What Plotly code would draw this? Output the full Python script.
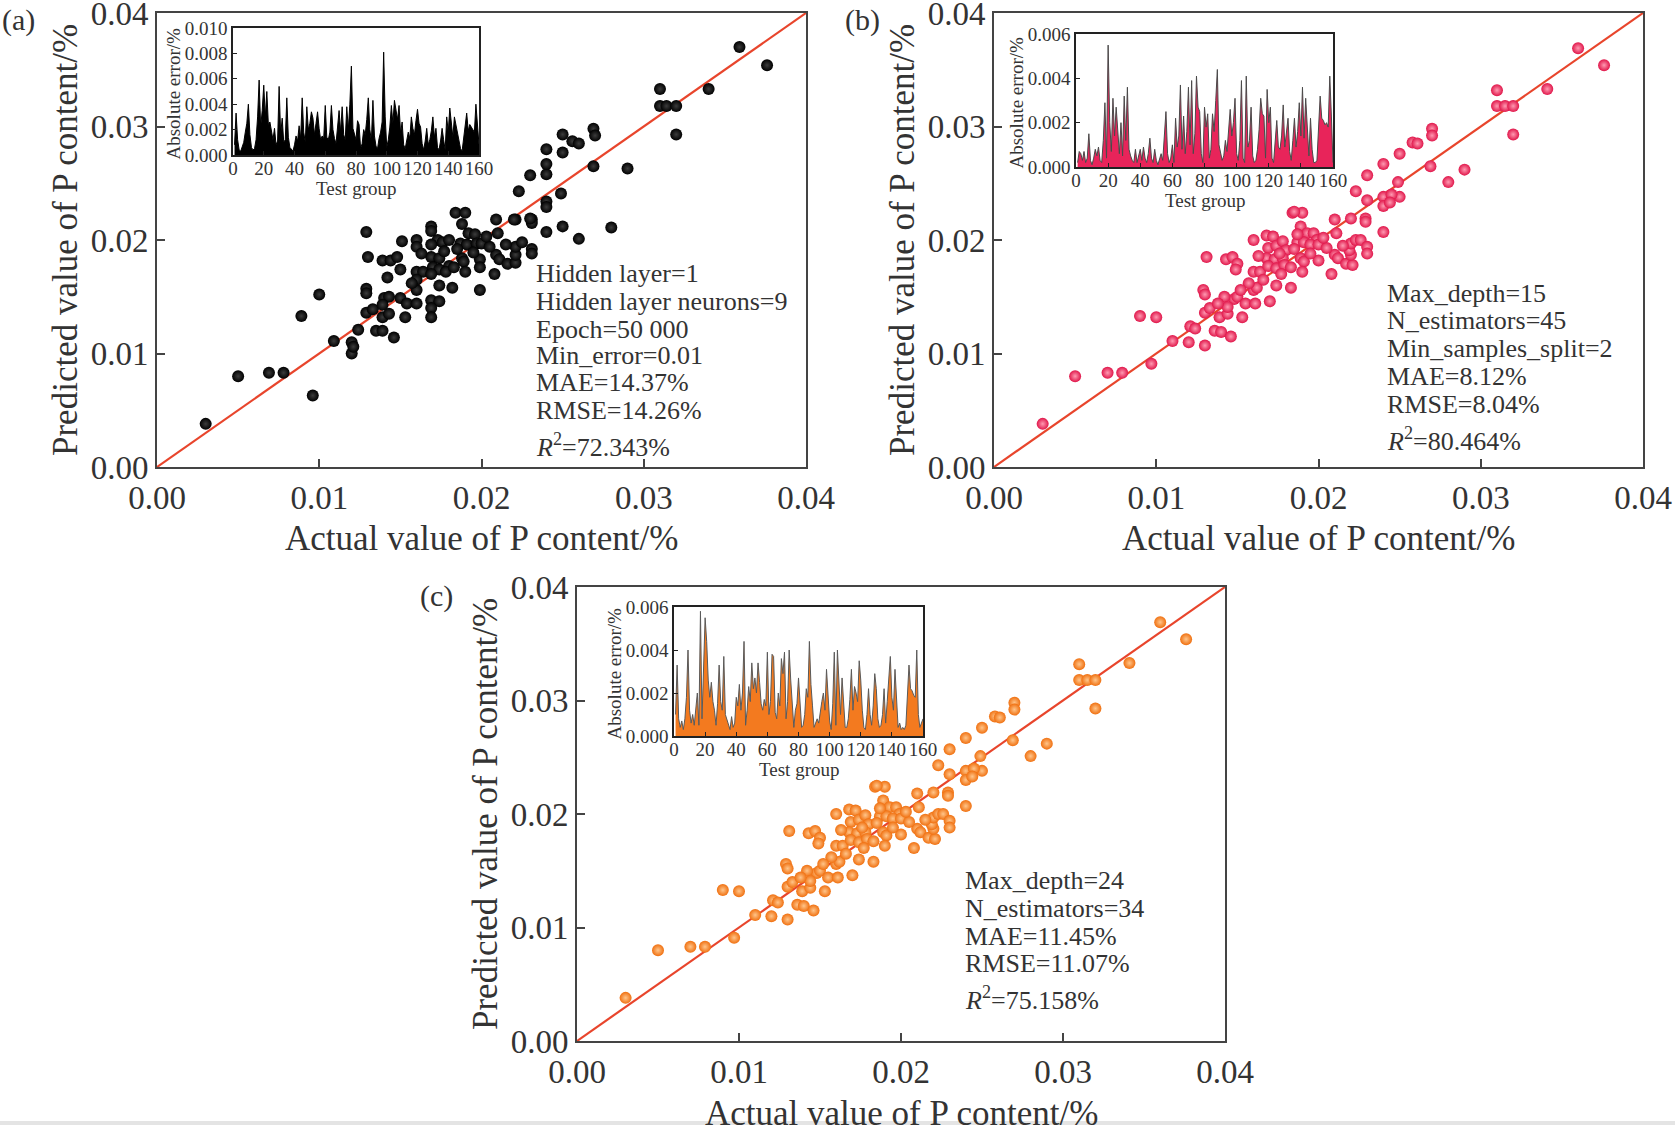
import plotly.graph_objects as go

W, H = 1675, 1125
FONT = "Liberation Serif"
TXT = "#333333"

#-------------- scatter data (actual vs predicted P content, %)
actual_a = [0.0030, 0.0050, 0.0069, 0.0078, 0.0096, 0.0089, 0.0100, 0.0109, 0.0120, 0.0120,
            0.0121, 0.0124, 0.0129, 0.0130, 0.0129, 0.0129, 0.0129, 0.0133, 0.0135, 0.0139,
            0.0146, 0.0139, 0.0143, 0.0140, 0.0143, 0.0139, 0.0150, 0.0153, 0.0154, 0.0160,
            0.0160, 0.0142, 0.0139, 0.0144, 0.0148, 0.0150, 0.0151, 0.0160, 0.0160, 0.0160,
            0.0164, 0.0160, 0.0169, 0.0169, 0.0173, 0.0169, 0.0176, 0.0180, 0.0169, 0.0174,
            0.0170, 0.0174, 0.0180, 0.0169, 0.0178, 0.0174, 0.0182, 0.0169, 0.0174, 0.0169,
            0.0169, 0.0184, 0.0190, 0.0188, 0.0192, 0.0196, 0.0187, 0.0191, 0.0197, 0.0200,
            0.0188, 0.0189, 0.0190, 0.0199, 0.0199, 0.0199, 0.0208, 0.0209, 0.0210, 0.0209,
            0.0211, 0.0216, 0.0221, 0.0221, 0.0221, 0.0225, 0.0221, 0.0231, 0.0231, 0.0231,
            0.0231, 0.0223, 0.0240, 0.0240, 0.0240, 0.0249, 0.0250, 0.0240, 0.0230, 0.0240,
            0.0240, 0.0250, 0.0256, 0.0260, 0.0250, 0.0269, 0.0270, 0.0269, 0.0290, 0.0280,
            0.0260, 0.0310, 0.0310, 0.0314, 0.0320, 0.0320, 0.0340, 0.0359, 0.0376, 0.0230,
            0.0220, 0.0163, 0.0185, 0.0183, 0.0205, 0.0195, 0.0177, 0.0203, 0.0215, 0.0157]
pred_a = [0.0038, 0.0080, 0.0083, 0.0083, 0.0063, 0.0133, 0.0152, 0.0111, 0.0110, 0.0100,
          0.0106, 0.0121, 0.0207, 0.0185, 0.0157, 0.0153, 0.0136, 0.0139, 0.0120, 0.0120,
          0.0114, 0.0132, 0.0135, 0.0149, 0.0150, 0.0143, 0.0149, 0.0132, 0.0144, 0.0144,
          0.0156, 0.0167, 0.0182, 0.0182, 0.0185, 0.0174, 0.0199, 0.0200, 0.0194, 0.0172,
          0.0172, 0.0165, 0.0212, 0.0208, 0.0200, 0.0196, 0.0198, 0.0200, 0.0185, 0.0184,
          0.0176, 0.0174, 0.0177, 0.0170, 0.0172, 0.0160, 0.0158, 0.0147, 0.0146, 0.0140,
          0.0132, 0.0224, 0.0224, 0.0214, 0.0206, 0.0205, 0.0197, 0.0196, 0.0197, 0.0197,
          0.0184, 0.0181, 0.0172, 0.0183, 0.0176, 0.0156, 0.0170, 0.0218, 0.0206, 0.0187,
          0.0183, 0.0179, 0.0180, 0.0187, 0.0194, 0.0198, 0.0218, 0.0218, 0.0215, 0.0192,
          0.0188, 0.0243, 0.0234, 0.0229, 0.0207, 0.0241, 0.0212, 0.0258, 0.0257, 0.0267,
          0.0280, 0.0277, 0.0287, 0.0285, 0.0293, 0.0298, 0.0292, 0.0265, 0.0263, 0.0211,
          0.0201, 0.0333, 0.0318, 0.0318, 0.0318, 0.0293, 0.0333, 0.0370, 0.0354, 0.0219,
          0.0218, 0.0188, 0.0192, 0.0176, 0.0194, 0.0189, 0.0190, 0.0203, 0.0196, 0.0162]

actual_b = [0.0030, 0.0050, 0.0070, 0.0079, 0.0097, 0.0090, 0.0100, 0.0110, 0.0120, 0.0130,
            0.0121, 0.0124, 0.0131, 0.0129, 0.0130, 0.0130, 0.0133, 0.0136, 0.0140, 0.0146,
            0.0139, 0.0144, 0.0148, 0.0142, 0.0150, 0.0144, 0.0153, 0.0155, 0.0161, 0.0160,
            0.0162, 0.0170, 0.0174, 0.0183, 0.0143, 0.0147, 0.0150, 0.0149, 0.0160, 0.0160,
            0.0164, 0.0168, 0.0172, 0.0169, 0.0174, 0.0178, 0.0180, 0.0168, 0.0173, 0.0178,
            0.0169, 0.0174, 0.0179, 0.0177, 0.0184, 0.0190, 0.0189, 0.0193, 0.0197, 0.0199,
            0.0187, 0.0191, 0.0195, 0.0200, 0.0189, 0.0191, 0.0190, 0.0200, 0.0208, 0.0210,
            0.0211, 0.0210, 0.0212, 0.0217, 0.0221, 0.0220, 0.0219, 0.0220, 0.0223, 0.0226,
            0.0220, 0.0229, 0.0229, 0.0230, 0.0230, 0.0223, 0.0230, 0.0240, 0.0240, 0.0240,
            0.0249, 0.0250, 0.0245, 0.0244, 0.0230, 0.0240, 0.0250, 0.0258, 0.0261, 0.0270,
            0.0270, 0.0269, 0.0290, 0.0280, 0.0310, 0.0310, 0.0315, 0.0320, 0.0320, 0.0341,
            0.0360, 0.0376, 0.0185, 0.0163, 0.0185, 0.0157, 0.0166, 0.0183, 0.0205, 0.0195,
            0.0176, 0.0187, 0.0203, 0.0215, 0.0138, 0.0152]
pred_b = [0.0038, 0.0080, 0.0083, 0.0083, 0.0091, 0.0133, 0.0132, 0.0111, 0.0110, 0.0107,
          0.0124, 0.0122, 0.0185, 0.0156, 0.0152, 0.0136, 0.0140, 0.0120, 0.0119, 0.0115,
          0.0132, 0.0135, 0.0148, 0.0150, 0.0150, 0.0141, 0.0132, 0.0144, 0.0144, 0.0156,
          0.0158, 0.0146, 0.0160, 0.0158, 0.0183, 0.0185, 0.0179, 0.0174, 0.0200, 0.0172,
          0.0172, 0.0204, 0.0203, 0.0193, 0.0195, 0.0199, 0.0191, 0.0184, 0.0183, 0.0184,
          0.0177, 0.0175, 0.0178, 0.0170, 0.0224, 0.0224, 0.0212, 0.0206, 0.0206, 0.0200,
          0.0198, 0.0198, 0.0196, 0.0196, 0.0184, 0.0181, 0.0172, 0.0182, 0.0170, 0.0218,
          0.0206, 0.0187, 0.0184, 0.0179, 0.0178, 0.0187, 0.0191, 0.0197, 0.0200, 0.0200,
          0.0219, 0.0219, 0.0216, 0.0194, 0.0188, 0.0243, 0.0235, 0.0238, 0.0230, 0.0207,
          0.0251, 0.0238, 0.0240, 0.0233, 0.0257, 0.0267, 0.0276, 0.0286, 0.0285, 0.0298,
          0.0292, 0.0265, 0.0262, 0.0251, 0.0332, 0.0318, 0.0318, 0.0318, 0.0293, 0.0333,
          0.0369, 0.0354, 0.0225, 0.0186, 0.0192, 0.0162, 0.0165, 0.0176, 0.0193, 0.0188,
          0.0188, 0.0205, 0.0202, 0.0195, 0.0144, 0.0156]

# panel (c) scatter reads the same as panel (b) in the figure
actual_c = actual_b
pred_c = pred_b

ideal = [0.0, 0.04]

#-------------- inset data (absolute error per test group)
test_group = list(range(1, 161))
err_a = [0.0008, 0.0033, 0.0012, 0.0004, 0.0003, 0.0006, 0.0010, 0.0018, 0.0025, 0.0040,
         0.0016, 0.0006, 0.0004, 0.0005, 0.0012, 0.0030, 0.0059, 0.0022, 0.0035, 0.0055,
         0.0030, 0.0050, 0.0024, 0.0026, 0.0018, 0.0012, 0.0021, 0.0008, 0.0011, 0.0054,
         0.0016, 0.0029, 0.0010, 0.0012, 0.0045, 0.0014, 0.0006, 0.0004, 0.0003, 0.0008,
         0.0015, 0.0011, 0.0023, 0.0013, 0.0045, 0.0018, 0.0010, 0.0038, 0.0020, 0.0025,
         0.0034, 0.0029, 0.0016, 0.0025, 0.0034, 0.0021, 0.0012, 0.0015, 0.0013, 0.0039,
         0.0014, 0.0012, 0.0018, 0.0039, 0.0020, 0.0013, 0.0009, 0.0022, 0.0035, 0.0018,
         0.0038, 0.0016, 0.0012, 0.0038, 0.0020, 0.0040, 0.0070, 0.0021, 0.0016, 0.0012,
         0.0027, 0.0024, 0.0005, 0.0009, 0.0020, 0.0016, 0.0028, 0.0045, 0.0020, 0.0011,
         0.0043, 0.0015, 0.0007, 0.0005, 0.0013, 0.0018, 0.0026, 0.0081, 0.0030, 0.0006,
         0.0012, 0.0022, 0.0039, 0.0025, 0.0043, 0.0036, 0.0028, 0.0039, 0.0017, 0.0026,
         0.0008, 0.0005, 0.0012, 0.0018, 0.0013, 0.0030, 0.0021, 0.0016, 0.0027, 0.0036,
         0.0025, 0.0022, 0.0009, 0.0004, 0.0011, 0.0021, 0.0008, 0.0012, 0.0019, 0.0030,
         0.0014, 0.0021, 0.0006, 0.0004, 0.0011, 0.0021, 0.0012, 0.0004, 0.0030, 0.0018,
         0.0037, 0.0026, 0.0014, 0.0030, 0.0023, 0.0018, 0.0009, 0.0005, 0.0003, 0.0012,
         0.0022, 0.0033, 0.0019, 0.0024, 0.0022, 0.0020, 0.0018, 0.0040, 0.0021, 0.0008]
err_b = [0.0002, 0.0007, 0.0006, 0.0003, 0.0007, 0.0002, 0.0004, 0.0015, 0.0003, 0.0001,
         0.0004, 0.0008, 0.0005, 0.0009, 0.0003, 0.0002, 0.0012, 0.0029, 0.0004, 0.0055,
         0.0020, 0.0007, 0.0031, 0.0014, 0.0027, 0.0015, 0.0006, 0.0020, 0.0005, 0.0032,
         0.0012, 0.0036, 0.0008, 0.0005, 0.0003, 0.0002, 0.0008, 0.0002, 0.0005, 0.0008,
         0.0003, 0.0009, 0.0004, 0.0002, 0.0006, 0.0013, 0.0004, 0.0002, 0.0008, 0.0003,
         0.0001, 0.0004, 0.0006, 0.0003, 0.0012, 0.0025, 0.0006, 0.0002, 0.0004, 0.0010,
         0.0002, 0.0022, 0.0009, 0.0014, 0.0037, 0.0008, 0.0023, 0.0006, 0.0016, 0.0036,
         0.0010, 0.0039, 0.0006, 0.0015, 0.0041, 0.0027, 0.0025, 0.0006, 0.0002, 0.0027,
         0.0018, 0.0024, 0.0004, 0.0008, 0.0024, 0.0016, 0.0030, 0.0044, 0.0010, 0.0006,
         0.0003, 0.0005, 0.0012, 0.0007, 0.0018, 0.0026, 0.0014, 0.0020, 0.0031, 0.0006,
         0.0003, 0.0012, 0.0039, 0.0004, 0.0002, 0.0041, 0.0009, 0.0012, 0.0027, 0.0005,
         0.0002, 0.0003, 0.0008, 0.0017, 0.0031, 0.0024, 0.0023, 0.0004, 0.0035, 0.0020,
         0.0027, 0.0004, 0.0002, 0.0010, 0.0021, 0.0009, 0.0008, 0.0014, 0.0028, 0.0009,
         0.0015, 0.0022, 0.0007, 0.0003, 0.0012, 0.0022, 0.0009, 0.0016, 0.0029, 0.0014,
         0.0036, 0.0013, 0.0031, 0.0019, 0.0005, 0.0022, 0.0008, 0.0002, 0.0002, 0.0003,
         0.0018, 0.0032, 0.0022, 0.0021, 0.0019, 0.0020, 0.0018, 0.0041, 0.0023, 0.0002]
err_c = [0.0010, 0.0033, 0.0008, 0.0004, 0.0007, 0.0003, 0.0008, 0.0018, 0.0040, 0.0012,
         0.0006, 0.0010, 0.0005, 0.0012, 0.0020, 0.0005, 0.0058, 0.0008, 0.0030, 0.0055,
         0.0044, 0.0026, 0.0018, 0.0025, 0.0016, 0.0012, 0.0005, 0.0015, 0.0033, 0.0016,
         0.0012, 0.0037, 0.0010, 0.0008, 0.0006, 0.0003, 0.0009, 0.0004, 0.0006, 0.0018,
         0.0014, 0.0024, 0.0012, 0.0020, 0.0044, 0.0005, 0.0012, 0.0023, 0.0016, 0.0034,
         0.0022, 0.0027, 0.0020, 0.0034, 0.0025, 0.0015, 0.0012, 0.0017, 0.0014, 0.0039,
         0.0010, 0.0016, 0.0038, 0.0037, 0.0011, 0.0008, 0.0020, 0.0014, 0.0036, 0.0029,
         0.0039, 0.0008, 0.0016, 0.0040, 0.0026, 0.0014, 0.0004, 0.0012, 0.0015, 0.0027,
         0.0012, 0.0004, 0.0005, 0.0010, 0.0022, 0.0018, 0.0044, 0.0024, 0.0014, 0.0004,
         0.0006, 0.0008, 0.0006, 0.0012, 0.0016, 0.0020, 0.0012, 0.0031, 0.0018, 0.0007,
         0.0003, 0.0015, 0.0039, 0.0005, 0.0040, 0.0022, 0.0010, 0.0027, 0.0012, 0.0004,
         0.0004, 0.0008, 0.0017, 0.0031, 0.0012, 0.0023, 0.0020, 0.0016, 0.0035, 0.0026,
         0.0012, 0.0004, 0.0003, 0.0010, 0.0022, 0.0010, 0.0005, 0.0014, 0.0029, 0.0022,
         0.0008, 0.0004, 0.0005, 0.0010, 0.0022, 0.0006, 0.0016, 0.0029, 0.0037, 0.0018,
         0.0012, 0.0031, 0.0014, 0.0004, 0.0006, 0.0003, 0.0004, 0.0003, 0.0005, 0.0020,
         0.0033, 0.0022, 0.0021, 0.0019, 0.0018, 0.0040, 0.0010, 0.0004, 0.0006, 0.0008]

#-------------- texts
stats_a = ["Hidden layer=1", "Hidden layer neurons=9", "Epoch=50 000", "Min_error=0.01",
           "MAE=14.37%", "RMSE=14.26%", "<i>R</i><sup>2</sup>=72.343%"]
stats_b = ["Max_depth=15", "N_estimators=45", "Min_samples_split=2",
           "MAE=8.12%", "RMSE=8.04%", "<i>R</i><sup>2</sup>=80.464%"]
stats_c = ["Max_depth=24", "N_estimators=34",
           "MAE=11.45%", "RMSE=11.07%", "<i>R</i><sup>2</sup>=75.158%"]


def px_x(px):
    return px / W


def px_y(py):
    return 1 - py / H


def note(text, px, py, size, xanchor="center", **kw):
    return dict(text=text, x=px_x(px), y=px_y(py), xref="paper", yref="paper",
                xanchor=xanchor, yanchor="middle", showarrow=False,
                font=dict(family=FONT, size=size, color=TXT), **kw)


fig = go.Figure()

#-------------- panels: (main axis id, inset axis id, data, colours, pixel boxes)
panels = [
    dict(main="", inset="2", x=actual_a, y=pred_a, err=err_a, yrange=0.010,
         dot="#000000", glow="#3c3c3c", fill="#000000", edge="#000000",
         box=(157, 806, 467, 13), ibox=(233, 479, 155, 28)),
    dict(main="3", inset="4", x=actual_b, y=pred_b, err=err_b, yrange=0.006,
         dot="#e0164a", glow="#ff9ab2", fill="#e8245a", edge="#4a4a4a",
         box=(994, 1643, 467, 13), ibox=(1076, 1333, 167, 34)),
    dict(main="5", inset="6", x=actual_c, y=pred_c, err=err_c, yrange=0.006,
         dot="#f07010", glow="#ffc58a", fill="#f37a1f", edge="#5a5a5a",
         box=(577, 1225, 1041, 587), ibox=(674, 923, 736, 607)),
]

layout_axes = {}
for p in panels:
    m, i = p["main"], p["inset"]
    fig.add_trace(go.Scatter(x=ideal, y=ideal, mode="lines",
                             line=dict(color="#e8452c", width=2.2),
                             xaxis="x" + m, yaxis="y" + m, hoverinfo="skip"))
    fig.add_trace(go.Scatter(x=p["x"], y=p["y"], mode="markers",
                             marker=dict(size=12, color=p["dot"], line=dict(width=0),
                                         gradient=dict(type="radial", color=p["glow"])),
                             xaxis="x" + m, yaxis="y" + m))
    fig.add_trace(go.Scatter(x=test_group, y=p["err"], mode="lines", fill="tozeroy",
                             fillcolor=p["fill"], line=dict(color=p["edge"], width=1),
                             xaxis="x" + i, yaxis="y" + i))

    x0, x1, y0, y1 = p["box"]
    main_common = dict(range=[0, 0.04], dtick=0.01, tickformat=".2f", showgrid=False,
                       zeroline=False, showline=True, mirror=True, linecolor="#444444",
                       linewidth=2, ticks="inside", ticklen=8, tickwidth=2,
                       tickcolor="#444444", automargin=False, ticklabeloverflow="allow",
                       tickfont=dict(family=FONT, size=33, color=TXT))
    layout_axes["xaxis" + m] = dict(domain=[px_x(x0), px_x(x1)], anchor="y" + m, **main_common)
    layout_axes["yaxis" + m] = dict(domain=[px_y(y0), px_y(y1)], anchor="x" + m, **main_common)

    ix0, ix1, iy0, iy1 = p["ibox"]
    inset_common = dict(showgrid=False, zeroline=False, showline=True, mirror=True,
                        linecolor="#222222", linewidth=1.5, ticks="inside", ticklen=4,
                        tickcolor="#222222", automargin=False, ticklabeloverflow="allow",
                        tickfont=dict(family=FONT, size=19, color=TXT))
    layout_axes["xaxis" + i] = dict(domain=[px_x(ix0), px_x(ix1)], anchor="y" + i,
                                    range=[0, 160], dtick=20, ticklabelstandoff=-5,
                                    **inset_common)
    layout_axes["yaxis" + i] = dict(domain=[px_y(iy0), px_y(iy1)], anchor="x" + i,
                                    range=[0, p["yrange"]], dtick=0.002, tickformat=".3f",
                                    **inset_common)

#-------------- annotations (axis titles, labels, parameter text)
ann = []
for p, tag, lab_xy in zip(panels, ["(a)", "(b)", "(c)"], [(18, 20), (862, 20), (436, 596)]):
    x0, x1, y0, y1 = p["box"]
    ix0, ix1, iy0, iy1 = p["ibox"]
    ann.append(note(tag, lab_xy[0], lab_xy[1], 30))
    ann.append(note("Predicted value of P content/%", x0 - 92, (y0 + y1) / 2, 35, textangle=-90))
    ann.append(note("Actual value of P content/%", (x0 + x1) / 2, y0 + 72, 35))
    ann.append(note("Absolute error/%", ix0 - 60, (iy0 + iy1) / 2 + 2, 19, textangle=-90))
    ann.append(note("Test group", (ix0 + ix1) / 2, iy0 + 33, 19))

for lines, left, ys in [(stats_a, 534, [274, 301, 329, 356, 382, 410, 446]),
                        (stats_b, 1385, [293, 320, 348, 376, 404, 439]),
                        (stats_c, 963, [880, 908, 936, 963, 998])]:
    for txt, yy in zip(lines, ys):
        ann.append(note(txt, left, yy, 26, xanchor="left"))

fig.update_layout(
    width=W, height=H,
    margin=dict(l=0, r=0, t=0, b=0, autoexpand=False),
    paper_bgcolor="white", plot_bgcolor="white",
    showlegend=False,
    annotations=ann,
    shapes=[dict(type="rect", xref="paper", yref="paper", x0=0, x1=1,
                 y0=0, y1=px_y(1121), fillcolor="#e4e4e4", line=dict(width=0))],
    **layout_axes
)

# page body margin would otherwise shift the figure by 8px
fig.write_html("out.html", config={"displayModeBar": False},
               post_script="document.body.style.margin='0px';")
